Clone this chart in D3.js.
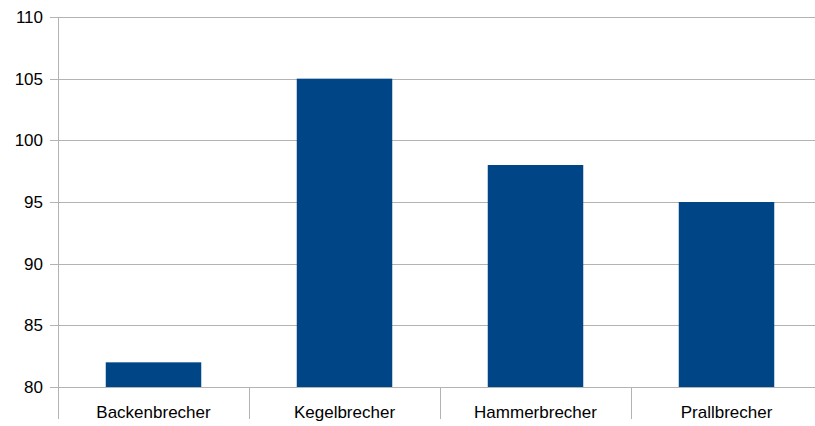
<!DOCTYPE html>
<html>
<head>
<meta charset="utf-8">
<script src="https://cdn.jsdelivr.net/npm/d3@7"></script>
<style>
  body { margin: 0; background: #fff; }
  svg { display: block; font-family: "Liberation Sans", Arial, sans-serif; }
</style>
</head>
<body>
<svg id="chart" width="815" height="426"></svg>
<script>
// chart data
var categories = ["Backenbrecher", "Kegelbrecher", "Hammerbrecher", "Prallbrecher"];
var values = [82, 105, 98, 95];
var yTicks = [80, 85, 90, 95, 100, 105, 110];

var svg = d3.select("#chart"),
    plotLeft = 58, plotRight = 822, plotTop = 17, plotBottom = 387;

var xScale = d3.scaleBand().domain(categories).range([plotLeft, plotRight]).paddingInner(0.5).paddingOuter(0.25),
    yScale = d3.scaleLinear().domain([80, 110]).range([plotBottom, plotTop]);

// horizontal grid
svg.append("g")
  .selectAll("line")
  .data(yTicks)
  .enter().append("line")
  .attr("x1", plotLeft - 8)
  .attr("x2", 815)
  .attr("y1", function(d) { return Math.round(yScale(d)) + 0.5; })
  .attr("y2", function(d) { return Math.round(yScale(d)) + 0.5; })
  .attr("stroke", "#b3b3b3")
  .attr("stroke-width", 1);

// y labels
svg.append("g")
  .selectAll("text")
  .data(yTicks)
  .enter().append("text")
  .attr("x", 43)
  .attr("y", function(d) { return yScale(d); })
  .attr("dy", "0.36em")
  .attr("text-anchor", "end")
  .attr("font-size", "17px")
  .attr("fill", "#000")
  .text(function(d) { return d; });

// bars
svg.append("g")
  .selectAll("rect")
  .data(values)
  .enter().append("rect")
  .attr("x", function(d, i) { return xScale(categories[i]); })
  .attr("y", function(d) { return yScale(d); })
  .attr("width", xScale.bandwidth())
  .attr("height", function(d) { return plotBottom - yScale(d); })
  .attr("fill", "#004586");

// vertical axis line and category separators
var step = xScale.step();
var seps = categories.map(function(c, i) { return plotLeft + i * step; });
svg.append("g")
  .selectAll("line")
  .data(seps)
  .enter().append("line")
  .attr("x1", function(d) { return Math.round(d) + 0.5; })
  .attr("x2", function(d) { return Math.round(d) + 0.5; })
  .attr("y1", function(d, i) { return i === 0 ? plotTop : plotBottom; })
  .attr("y2", 419)
  .attr("stroke", "#b3b3b3")
  .attr("stroke-width", 1);

// category labels
svg.append("g")
  .selectAll("text")
  .data(categories)
  .enter().append("text")
  .attr("x", function(d) { return xScale(d) + xScale.bandwidth() / 2; })
  .attr("y", 412)
  .attr("dy", "0.36em")
  .attr("text-anchor", "middle")
  .attr("font-size", "17px")
  .attr("fill", "#000")
  .text(function(d) { return d; });
</script>
</body>
</html>
